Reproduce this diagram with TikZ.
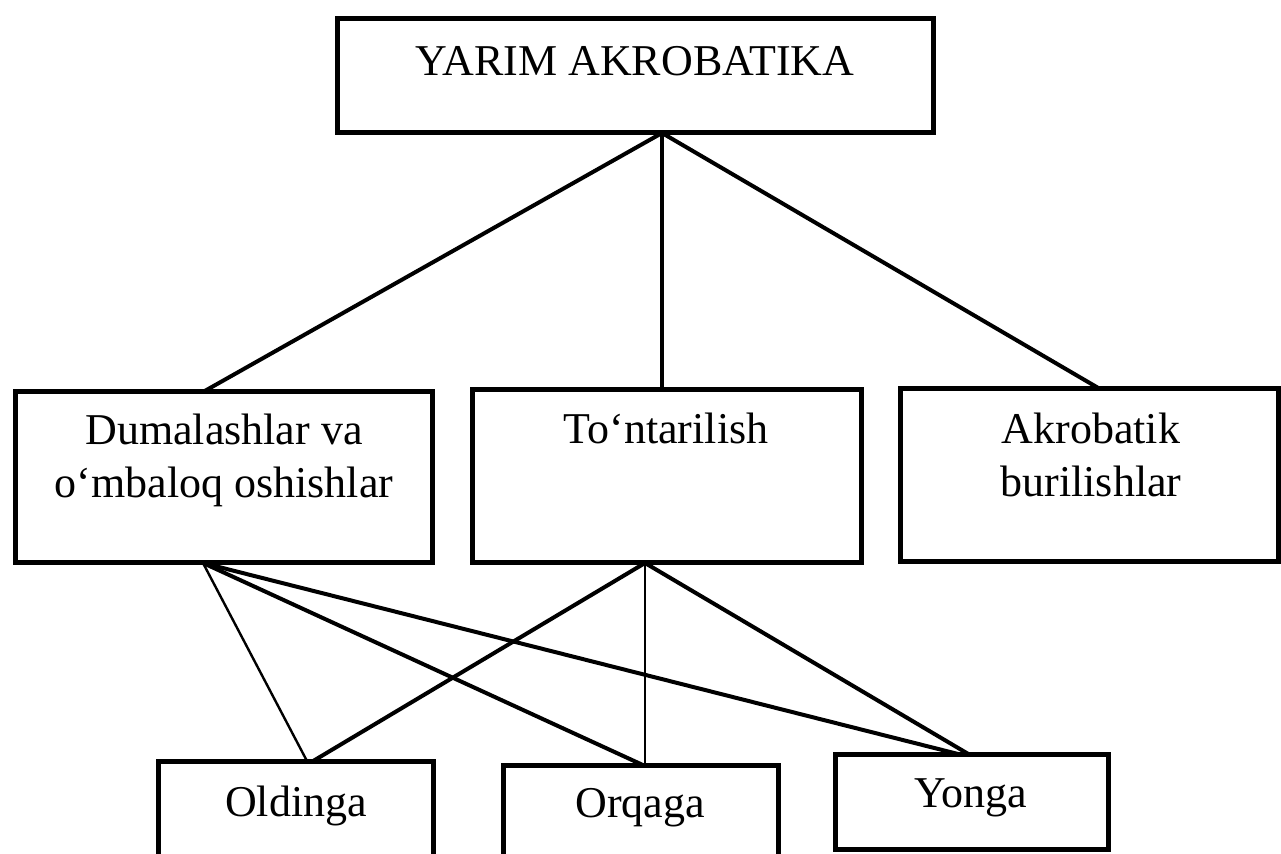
\documentclass[tikz,border=0pt]{standalone}
\usepackage{fontspec}
\setmainfont{Liberation Serif}
\usetikzlibrary{calc}
\begin{document}
\begin{tikzpicture}[x=0.5pt,y=-0.5pt,
  box/.style={draw,line width=2.5pt,inner sep=0pt,outer sep=0pt},
  lbl/.style={font=\fontsize{22}{26.5}\selectfont,align=center,inner sep=0pt,anchor=base},
  link/.style={line width=2pt},
  thinlink/.style={line width=1.2pt}]
\useasboundingbox (0,0) rectangle (1281,854);
\clip (0,0) rectangle (1281,854);
% boxes
\node[box,minimum width=298pt,minimum height=57pt] (top) at (635,76) {};
\node[box,minimum width=208.5pt,minimum height=85.5pt] (left) at (223.5,477.5) {};
\node[box,minimum width=194.5pt,minimum height=86.5pt] (mid) at (666.5,476.5) {};
\node[box,minimum width=189pt,minimum height=86.5pt] (right) at (1089,475.5) {};
\node[box,minimum width=137.5pt,minimum height=69pt] (old) at (295.5,831) {};
\node[box,minimum width=137.5pt,minimum height=69pt] (orq) at (640.5,835) {};
\node[box,minimum width=136.5pt,minimum height=47.5pt] (yon) at (971.5,802.5) {};
% texts
\node[lbl] (tTop) at (635,76) {YARIM AKROBATIKA};
\node[lbl] (tLeft) at (224,498) {Dumalashlar va\\o‘mbaloq oshishlar};
\node[lbl] (tMid) at (666,444) {To‘ntarilish};
\node[lbl] (tRight) at (1091,497) {Akrobatik\\burilishlar};
\node[lbl] (tOld) at (296,817) {Oldinga};
\node[lbl] (tOrq) at (640,818) {Orqaga};
\node[lbl] (tYon) at (971,808) {Yonga};
% junction points
\coordinate (topS) at ($(top.south)+(27,0)$);
\coordinate (leftN) at ($(left.north)+(-20.5,0)$);
\coordinate (midN) at ($(mid.north)+(-4.5,0)$);
\coordinate (rightN) at ($(right.north)+(11,0)$);
\coordinate (leftS) at ($(left.south)+(-20.5,0)$);
\coordinate (midS) at ($(mid.south)+(-21.5,0)$);
\coordinate (oldA) at ($(old.north)+(12,0)$);
\coordinate (oldB) at ($(old.north)+(16,0)$);
\coordinate (orqN) at ($(orq.north)+(4.5,0)$);
\coordinate (yonA) at ($(yon.north)+(-9.5,0)$);
\coordinate (yonB) at ($(yon.north)+(-1.5,0)$);
% connectors
\draw[link] (topS) -- (leftN);
\draw[link] (topS) -- (midN);
\draw[link] (topS) -- (rightN);
\draw[thinlink] (leftS) -- (oldA);
\draw[link] (leftS) -- (orqN);
\draw[link] (leftS) -- (yonA);
\draw[link] (midS) -- (oldB);
\draw[thinlink] (midS) -- (orqN);
\draw[link] (midS) -- (yonB);
\end{tikzpicture}
\end{document}
